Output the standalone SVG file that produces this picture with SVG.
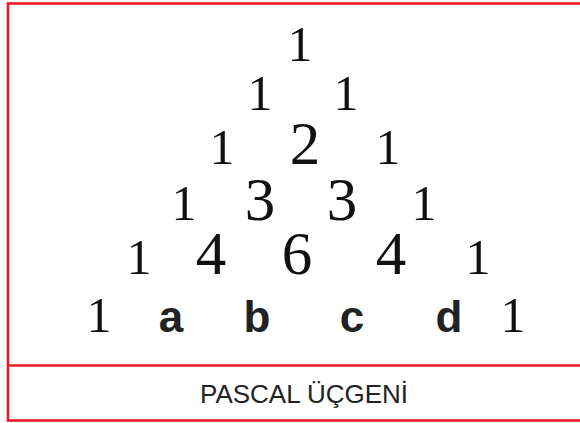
<svg xmlns="http://www.w3.org/2000/svg" width="580" height="423" viewBox="0 0 580 423">
<style>
.frame{fill:none;stroke:#ed1c24;stroke-width:2.6}
.one{font-family:"Liberation Serif",serif;font-size:50px;fill:#111;text-anchor:middle}
.big{font-family:"Liberation Serif",serif;font-size:61px;fill:#111;text-anchor:middle}
.let{font-family:"Liberation Sans",Arial,sans-serif;font-weight:bold;font-size:44px;fill:#222;text-anchor:middle}
.title{font-family:"Liberation Sans",Arial,sans-serif;font-size:26px;fill:#222;text-anchor:middle}
</style>
<rect width="580" height="423" fill="#fff"/>
<g id="frame">
<rect class="frame" x="8" y="3.5" width="600" height="417"/>
<line class="frame" x1="8" y1="365.5" x2="600" y2="365.5"/>
</g>
<g id="row1"><text class="one" x="300" y="61">1</text></g>
<g id="row2"><text class="one" x="260" y="110">1</text><text class="one" x="346" y="110">1</text></g>
<g id="row3"><text class="one" x="222" y="164">1</text><text class="big" x="305" y="164">2</text><text class="one" x="388" y="164">1</text></g>
<g id="row4"><text class="one" x="184" y="220">1</text><text class="big" x="260" y="220">3</text><text class="big" x="342" y="220">3</text><text class="one" x="424" y="220">1</text></g>
<g id="row5"><text class="one" x="139" y="274">1</text><text class="big" x="211" y="274">4</text><text class="big" x="297" y="274">6</text><text class="big" x="391" y="274">4</text><text class="one" x="478" y="274">1</text></g>
<g id="row6"><text class="one" x="99" y="332">1</text><text class="let" x="171" y="332">a</text><text class="let" x="257" y="332">b</text><text class="let" x="352" y="332">c</text><text class="let" x="449" y="332">d</text><text class="one" x="513" y="332">1</text></g>
<g id="title"><text class="title" x="304" y="403">PASCAL ÜÇGENİ</text></g>
</svg>
